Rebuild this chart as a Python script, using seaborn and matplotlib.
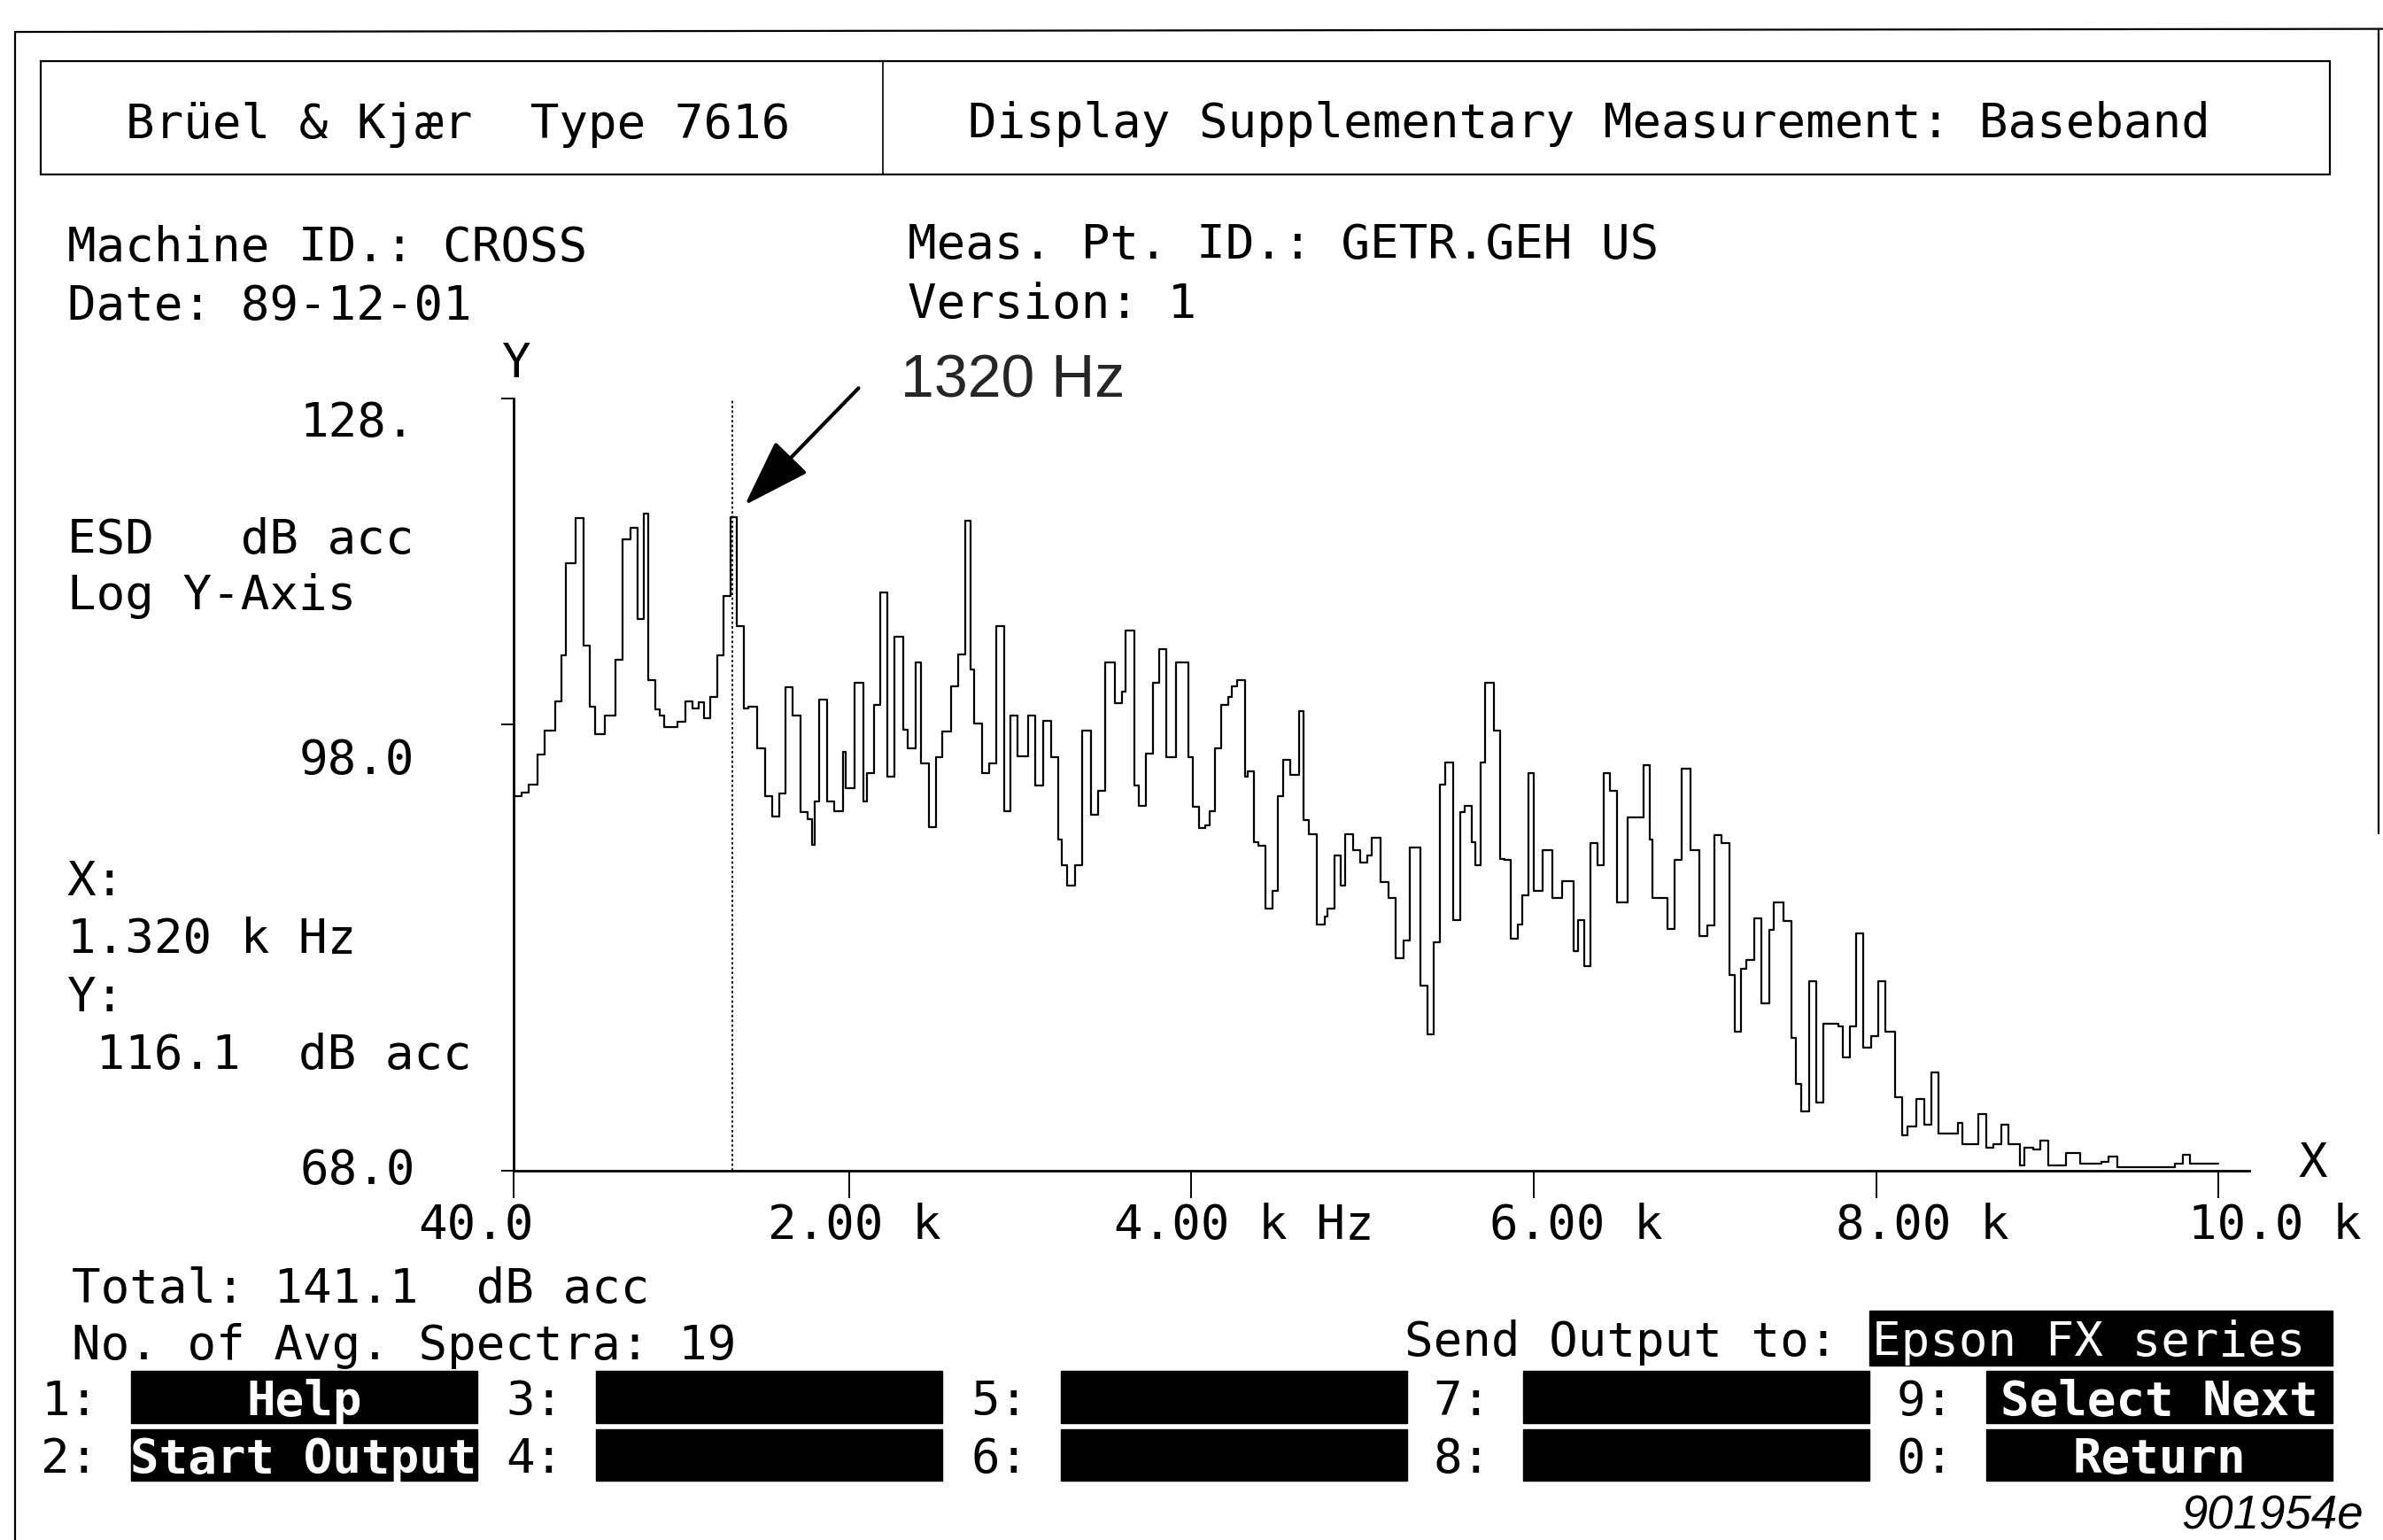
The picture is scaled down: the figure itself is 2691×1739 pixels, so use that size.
import matplotlib
matplotlib.use("Agg")
import matplotlib.pyplot as plt
from matplotlib.patches import Rectangle
from matplotlib.ticker import NullLocator, NullFormatter
import seaborn as sns

# Baseband spectrum: start frequency of each step (Hz) and its level (dB acc)
freq_hz = [
    40, 85, 126, 178, 221, 282, 321, 345, 402, 446, 484, 515, 575, 635, 678,
    722, 765, 799, 825, 868, 894, 920, 998, 1041, 1084, 1119, 1153, 1188, 1231,
    1265, 1308, 1343, 1386, 1412, 1464, 1507, 1550, 1593, 1628, 1671, 1714,
    1757, 1783, 1800, 1826, 1869, 1912, 1964, 1981,
    2033, 2085, 2102, 2145, 2180, 2223, 2266, 2318, 2344, 2387, 2421, 2464,
    2508, 2542, 2594, 2637, 2680, 2709, 2732, 2775, 2818, 2858, 2904, 2944,
    2982, 3043, 3086, 3134, 3181, 3224, 3241, 3272, 3319, 3362, 3414, 3452,
    3496, 3552, 3595, 3617, 3664, 3690, 3733, 3776, 3810, 3854, 3911, 3980,
    4009, 4043,
    4078, 4104, 4138, 4173, 4216, 4233, 4268, 4311, 4328, 4366, 4389, 4432,
    4475, 4504, 4535, 4578, 4627, 4656, 4687, 4734, 4777, 4794, 4837, 4872,
    4898, 4946, 4984, 5027, 5053, 5105, 5153, 5191, 5239, 5277, 5338, 5381,
    5415, 5450, 5484, 5527, 5571, 5596, 5636, 5657, 5691, 5717, 5769, 5804,
    5829, 5864, 5907, 5933, 5968, 6002, 6054,
    6106, 6166, 6235, 6261, 6295, 6330, 6373, 6408, 6447, 6485, 6546, 6640,
    6675, 6692, 6779, 6822, 6865, 6917, 6968, 7012, 7055, 7098, 7141, 7175,
    7210, 7244, 7288, 7331, 7374, 7400, 7460, 7503, 7529, 7564, 7607, 7650,
    7693, 7779, 7805, 7849, 7883, 7926, 7969, 8012, 8056,
    8111, 8150, 8185, 8237, 8280, 8323, 8366, 8478, 8504, 8599, 8642, 8685,
    8729, 8772, 8841, 8867, 8918, 8961, 9005, 9108, 9194, 9315, 9358, 9410,
    9747, 9790, 9833, 10000,
]
level_db = [
    92.4, 92.7, 93.3, 95.6, 97.5, 99.9, 103.7, 111.8, 116.0, 104.5, 99.4, 97.2,
    98.7, 103.3, 114.0, 115.1, 106.8, 116.5, 101.6, 99.2, 98.7, 97.8, 98.2,
    99.9, 99.3, 99.8, 98.5, 100.2, 103.7, 108.9, 116.1, 106.2, 99.3, 99.4,
    96.1, 92.4, 90.9, 92.6, 101.0, 98.7, 91.2, 90.7, 88.8, 92.0, 100.0, 92.0,
    91.3, 95.8, 93.0,
    101.4, 92.0, 94.2, 99.6, 109.2, 93.9, 105.3, 97.6, 96.1, 103.1, 94.9, 90.1,
    95.4, 97.4, 101.1, 103.8, 115.8, 102.5, 98.1, 94.2, 94.9, 106.2, 91.3,
    98.7, 95.5, 98.7, 93.2, 98.3, 95.4, 89.2, 87.3, 85.9, 87.3, 97.5, 91.0,
    92.8, 103.1, 99.7, 100.7, 105.8, 93.2, 91.7, 95.7, 101.4, 104.2, 95.4,
    103.1, 95.4, 91.6, 90.0,
    90.2, 91.3, 96.1, 99.6, 100.2, 101.1, 101.6, 93.9, 94.3, 89.0, 88.7, 84.3,
    85.5, 92.4, 95.2, 94.0, 99.1, 90.6, 89.6, 83.2, 83.7, 84.3, 88.0, 85.9,
    89.6, 88.4, 87.5, 88.0, 89.3, 86.1, 85.0, 80.9, 82.1, 88.6, 79.1, 76.0,
    82.0, 93.3, 95.0, 83.5, 91.2, 91.7, 89.0, 87.3, 95.0, 101.4, 97.5, 87.8,
    87.7, 82.2, 83.2, 85.2, 94.2, 85.5, 88.4,
    85.0, 86.2, 81.4, 83.5, 80.4, 88.9, 87.3, 94.2, 92.8, 84.7, 90.8, 94.8,
    89.2, 85.0, 82.9, 87.7, 94.5, 88.4, 82.4, 83.1, 89.5, 88.9, 79.8, 76.2,
    80.2, 80.8, 83.6, 78.0, 82.8, 84.7, 83.4, 75.8, 73.0, 71.4, 79.4, 71.9,
    76.7, 76.5, 74.6, 76.5, 82.6, 75.2, 75.9, 79.4, 76.2,
    72.2, 70.0, 70.5, 72.1, 70.6, 73.7, 70.1, 70.7, 69.5, 71.2, 69.3, 69.5,
    70.6, 69.5, 68.3, 69.3, 69.2, 69.7, 68.3, 69.0, 68.4, 68.5, 68.8, 68.2,
    68.4, 68.9, 68.4, 68.4,
]

cursor_hz = 1320
cursor_db = 116.1

x_ticks = [40, 2000, 4000, 6000, 8000, 10000]
x_tick_labels = ["40.0", "2.00 k", "4.00 k Hz", "6.00 k", "8.00 k", "10.0 k"]
y_ticks = [68, 98, 128]
y_tick_labels = ["68.0", "98.0", "128."]

softkeys_row1 = ["Help", "", "", "", "Select Next"]
softkeys_row2 = ["Start Output", "", "", "", "Return"]
key_nums_row1 = ["1:", "3:", "5:", "7:", "9:"]
key_nums_row2 = ["2:", "4:", "6:", "8:", "0:"]

# ---------------------------------------------------------------------------
sns.set_theme(style="white")
plt.rcParams["font.family"] = ["DejaVu Sans Mono", "DejaVu Sans"]

W, H = 2691, 1739
fig = plt.figure(figsize=(W / 100, H / 100), dpi=100)
fig.patch.set_facecolor("white")

# background layer in screen coordinates (1568 x 1013 grid)
GW, GH = 1568, 1013
bg = fig.add_axes([0, 0, 1, 1])
bg.set_xlim(0, GW)
bg.set_ylim(GH, 0)
bg.axis("off")

FS = 39
lw_frame = 1.6

# outer frame and header box
bg.plot([10, 1568], [21, 19], color="black", lw=lw_frame)
bg.plot([10, 10], [21, GH], color="black", lw=lw_frame)
bg.plot([1565, 1565], [19, 548], color="black", lw=lw_frame)
bg.add_patch(Rectangle((27, 40), 1533 - 27, 115 - 40, fill=False,
                       ec="black", lw=lw_frame))
bg.plot([581, 581], [40, 115], color="black", lw=1.2)


def txt(x, y, s, **kw):
    kw.setdefault("fontsize", FS)
    kw.setdefault("va", "baseline")
    kw.setdefault("ha", "left")
    bg.text(x, y, s, color=kw.pop("color", "black"), **kw)


txt(83, 91, "Brüel & Kjær  Type 7616")
txt(637, 90, "Display Supplementary Measurement: Baseband")
txt(44, 172, "Machine ID.: CROSS")
txt(44, 210, "Date: 89-12-01")
txt(597, 170, "Meas. Pt. ID.: GETR.GEH US")
txt(597, 209, "Version: 1")
txt(340, 248, "Y", ha="center")
txt(44, 364, "ESD   dB acc")
txt(44, 401, "Log Y-Axis")
txt(44, 589, "X:")
txt(44, 627, "%.3f k Hz" % (cursor_hz / 1000))
txt(44, 665, "Y:")
txt(44, 703, " %.1f  dB acc" % cursor_db)
txt(1522, 774, "X", ha="center")
txt(47, 857, "Total: 141.1  dB acc")
txt(47, 894, "No. of Avg. Spectra: 19")
txt(924, 892, "Send Output to:")

# y tick labels (placed on the character grid)
for lab, yb in zip(y_tick_labels, [779, 509, 287]):
    txt(197, yb, lab)
# x tick labels
for lab, xl in zip(x_tick_labels, [275, 505, 733, 980, 1208, 1440]):
    txt(xl, 815, lab)

# output device box
bg.add_patch(Rectangle((1230, 862), 305, 36, color="black"))
txt(1232, 892, "Epson FX series", color="white")

# soft keys
box_x = [86, 392, 698, 1002, 1307]
for row, (nums, labels, y0) in enumerate([(key_nums_row1, softkeys_row1, 902),
                                           (key_nums_row2, softkeys_row2, 940)]):
    for i, (num, lab) in enumerate(zip(nums, labels)):
        bx = box_x[i]
        txt(bx - 59, y0 + 29, num)
        bg.add_patch(Rectangle((bx, y0), 228, 34, color="black"))
        if lab:
            txt(bx + 114, y0 + 29, lab, ha="center", color="white",
                fontweight="bold")

bg.text(1555, 1006, "901954e", fontsize=38, family="Liberation Sans",
        style="italic", ha="right", va="baseline", color="black")

# ---------------------------------------------------------------------------
# spectrum axes
left, right = 338 / GW, 1480 / GW
bottom, top = 1 - 770 / GH, 1 - 262 / GH
ax = fig.add_axes([left, bottom, right - left, top - bottom])
ax.patch.set_alpha(0)

sns.lineplot(x=freq_hz, y=level_db, drawstyle="steps-post", color="black",
             linewidth=1.6, estimator=None, sort=False, ax=ax)

ax.set_yscale("log")
ax.set_xlim(40, 10180)
ax.set_ylim(68, 128)
ax.set_xticks(x_ticks)
ax.set_yticks(y_ticks)
ax.yaxis.set_minor_locator(NullLocator())
ax.xaxis.set_major_formatter(NullFormatter())
ax.yaxis.set_major_formatter(NullFormatter())
ax.yaxis.set_minor_formatter(NullFormatter())
ax.tick_params(axis="x", direction="out", length=22, width=1.4,
               bottom=True, color="black")
ax.tick_params(axis="y", direction="out", length=10, width=1.4,
               left=True, color="black")
for side in ["top", "right"]:
    ax.spines[side].set_visible(False)
for side in ["left", "bottom"]:
    ax.spines[side].set_color("black")
    ax.spines[side].set_linewidth(2)
ax.set_xlabel("")
ax.set_ylabel("")
ax.grid(False)

# cursor
ax.axvline(cursor_hz, color="black", lw=1.3, ls=(0, (1.5, 1.5)))
ax.annotate("", xy=(cursor_hz, cursor_db), xytext=(142, 146),
            textcoords="offset pixels",
            arrowprops=dict(arrowstyle="-|>,head_length=2.4,head_width=0.8",
                            color="black", lw=3, mutation_scale=20,
                            shrinkA=0, shrinkB=14))
ax.annotate("%d Hz" % cursor_hz, xy=(cursor_hz, cursor_db), xytext=(190, 136),
            textcoords="offset pixels", fontsize=49,
            family="Liberation Sans", ha="left", va="baseline")

fig.savefig("out.png", dpi=100, facecolor="white")
